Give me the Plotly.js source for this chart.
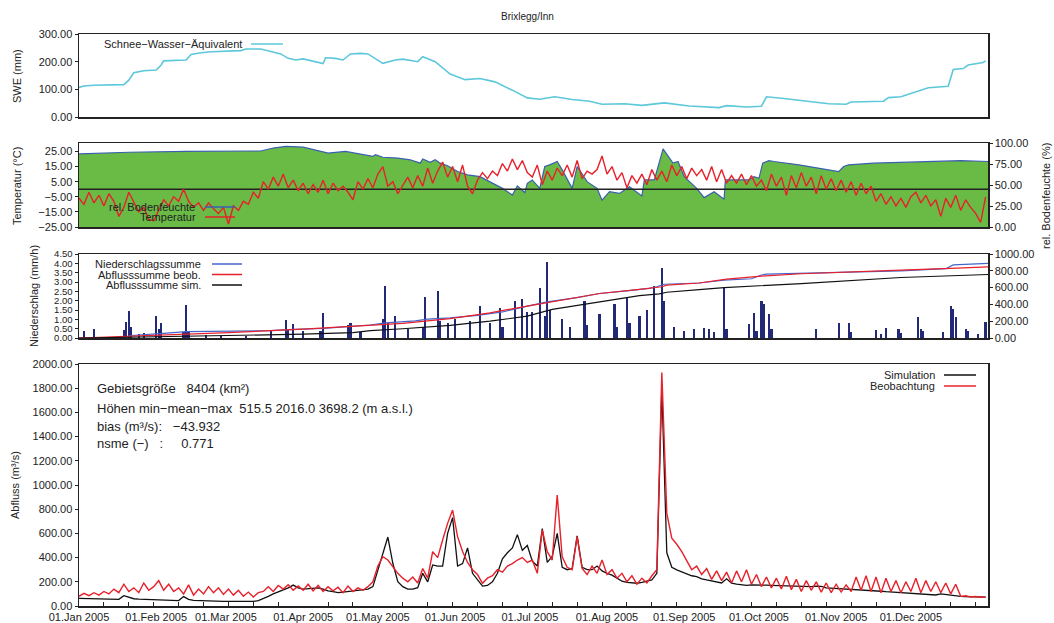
<!DOCTYPE html>
<html><head><meta charset="utf-8">
<script src="https://cdn.plot.ly/plotly-3.0.1.min.js"></script>
<style>html,body{margin:0;padding:0;background:#fff}#chart{width:1054px;height:623px}</style>
</head><body><div id="chart"></div>
<script>
// ---------- DATA (day of year 2005) ----------
const sweDay=[0,2,6,18,20,22,26,31,33,34,43,45,49,53,65,67,73,77,81,84,87,90,95,98,99,103,106,109,113,116,122,127,130,136,138,143,149,155,161,167,174,180,185,191,198,205,210,219,226,235,245,257,260,268,274,276,283,292,301,308,310,323,325,330,337,341,349,351,355,357,363,364];
const sweVal=[107,112,115,117,133,160,167,170,188,203,206,226,232,236,240,246,246,236,228,212,206,210,200,193,214,212,206,228,230,228,194,206,209,200,218,200,155,135,139,127,97,69,64,73,63,57,46,48,42,51,40,34,41,36,39,73,67,58,48,46,54,57,70,73,94,106,111,172,175,188,197,203];

// temperature, one value every 2 days from 1 Jan
const tempVal=[-6,-10,-2,-9,-4,-11,-3,-8,-18,-12,
-2,-9,-15,-12,-20,-21,-14,-7,-11,-5,
-8,0,-8,-12,-9,-14,-9,-13,-16,-12,
-23,-11,-14,-8,-10,-2,-6,5,0,8,
2,10,1,6,-1,4,-3,3,-2,6,
-3,4,-1,2,-2,-7,5,0,7,1,
10,15,2,5,-3,3,8,1,9,2,
14,4,12,18,8,15,5,16,2,-3,
6,11,7,12,9,17,12,20,13,19,
11,8,16,3,12,6,14,9,16,8,
19,7,12,10,13,22,10,15,6,11,
1,9,4,10,3,13,6,12,5,16,
9,15,7,14,9,13,6,15,5,13,
4,9,4,10,3,9,2,6,-1,10,
2,8,-4,9,1,11,2,8,-3,9,
0,7,-1,6,-2,5,-4,4,-3,2,
-8,-3,-10,-5,-11,-6,-12,-5,-2,-9,
-4,-11,-7,-18,-6,-12,-4,-14,-7,-12,
-16,-22,-5];

const soilDay=[0,20,43,73,78,83,90,98,100,107,113,118,119,122,128,133,137,138,141,143,145,148,152,156,161,165,170,174,176,179,180,182,185,187,189,192,194,198,200,204,208,210,213,217,221,226,227,231,234.5,238.5,240.5,243,248,251,255,259,259.5,269,271,273,274.5,277,279,289,297,305,307,309,319,333,354,365];
const soilVal=[87,89,90,90.5,94,96,95,90,88,90,87,84,86,83,82,80,76,81,77,80,76,73,66,62,60,54,46,38,49,41,52,56,46,72,74,78,68,46,72,54,46,32,42,40,48,37,56,56,93,76,78,60,46,35,42,33,56,56,60,58,76,79,78,74,70,66,72,74,76,77,79,78];

const rainDay=[2,6,18,19,20,21,24,26,31,32,33,42,43,44,51,57,67,77,83,84,86,90,97,98,108,109,113,122,123,124,127,132,138,139,144,145,148,151,157,161,165,169,170,175,178,180,182,185,187,188,189,194,197,203,204,209,215,216,220,221,225,228,231,234,235,239,243,247,251,253,255,259,260,269,271,272,274,275,277,278,296,305,309,310,320,322,324,329,330,337,338,339,347,350,351,352,356,357,361,364];
const rainVal=[0.36,0.48,0.43,0.84,1.44,0.6,0.2,0.25,1.2,0.5,0.8,0.3,1.78,0.4,0.15,0.1,0.12,0.43,0.97,0.5,0.77,0.4,0.4,1.33,0.72,0.8,0.3,1.0,2.8,0.8,1.2,0.5,0.6,2.2,2.5,0.9,0.8,1.0,0.9,1.7,0.8,1.6,0.6,2.0,2.1,1.4,1.4,2.7,1.2,4.05,1.5,1.0,0.6,2.0,0.7,1.3,1.8,0.6,2.2,0.8,1.2,1.5,2.8,3.75,2.0,0.6,0.4,0.5,0.54,0.5,0.3,2.73,0.5,0.73,1.33,0.4,1.98,1.84,1.3,0.5,0.5,0.8,0.79,0.3,0.45,0.2,0.54,0.5,0.25,1.11,0.5,0.4,0.3,1.69,1.55,1.1,0.5,0.4,0.2,0.86];

const cumPDay=[0,18,21,31,34,43,60,77,84,98,108,117,123,135,140,149,160,170,180,188,200,209,220,229,232,235,249,259,270,274,276,290,310,330,348,351,365];
const cumPVal=[0,5,30,45,55,75,80,88,100,115,135,155,180,205,225,240,270,310,380,430,480,530,560,590,610,640,655,688,705,750,760,770,780,800,825,870,888];
const cumObsDay=[0,30,60,90,117,130,149,165,180,195,209,225,234,236,249,260,274,290,310,330,350,365];
const cumObsVal=[0,30,65,105,148,175,230,300,380,460,530,580,610,630,655,700,736,765,790,808,828,848];
const cumSimDay=[0,60,90,110,117,130,149,165,180,190,210,225,233,236,249,259,290,330,365];
const cumSimVal=[0,30,45,65,88,110,150,200,260,340,430,505,525,545,575,600,648,720,756];

// discharge, one value every 2 days from 1 Jan
const qSim=[63,62,61,60,59,58,57,56,55,85,
70,60,56,54,52,50,49,48,47,46,
45,78,55,46,44,43,42,41,40,39,
38,37,37,36,36,38,45,60,80,100,
118,130,150,173,150,140,145,150,150,140,
125,118,110,115,120,125,128,132,140,160,
298,450,570,353,201,160,140,140,151,270,
200,339,330,330,600,730,330,350,480,270,
220,165,170,200,270,390,440,480,590,460,
500,370,330,640,360,410,600,320,300,310,
580,320,300,300,330,290,270,255,230,205,
195,190,188,195,205,215,270,1800,440,320,
298,280,265,250,242,225,215,205,195,190,
225,188,180,178,170,175,172,173,172,170,
168,166,164,162,161,160,158,160,165,163,
150,148,146,142,138,135,132,130,128,127,
125,122,118,115,113,111,108,105,102,98,
95,93,91,100,95,85,80,79,78,77,
76,75,74];
const qObs=[80,105,85,110,90,120,100,140,110,180,
120,150,110,190,130,160,210,130,180,120,
150,100,175,90,140,100,160,110,150,95,
140,90,130,80,115,75,110,120,160,120,
170,140,175,130,165,130,180,125,170,120,
160,125,155,110,165,120,150,130,160,200,
330,407,380,325,270,230,200,240,190,310,
230,449,400,545,683,793,573,450,360,300,
260,188,230,250,300,280,330,350,380,400,
360,380,270,628,449,380,917,407,320,300,
573,310,260,330,270,380,260,300,230,270,
200,250,180,230,190,250,300,1930,766,560,
510,450,380,300,330,260,310,220,290,210,
280,190,290,200,300,180,260,160,240,150,
230,140,245,135,220,120,210,130,200,115,
190,110,180,115,175,120,240,130,250,120,
240,110,230,120,210,110,200,120,230,110,
210,120,200,110,190,100,180,80,85,75,
78,72,74];

const monthTickFormat='%d.%b %Y';
const title='Brixlegg/Inn';
const infoLines=['Gebietsgröße\u00a0\u00a0\u00a08404 (km²)','Höhen min−mean−max\u00a0\u00a0515.5 2016.0 3698.2 (m a.s.l.)','bias (m³/s):\u00a0\u00a0\u00a0−43.932','nsme (−)\u00a0\u00a0\u00a0:\u00a0\u00a0\u00a0\u00a0\u00a00.771'];

// ---------- helpers ----------
const T0=Date.UTC(2005,0,1);
const toDate=d=>new Date(T0+d*86400000).toISOString().slice(0,19).replace('T',' ');
const every2=arr=>arr.map((_,i)=>toDate(i*2));
const xRange=['2005-01-01 00:00','2005-12-31 23:00'];

const C={swe:'#5cc8da',green:'#69bb45',soilLine:'#3a5fae',red:'#e8202a',navy:'#222a78',blue:'#4466cc',black:'#111',frame:'#222'};
const FONT='Liberation Sans, Arial, Helvetica, sans-serif';

const traces=[
 {x:sweDay.map(toDate),y:sweVal,xaxis:'x',yaxis:'y',type:'scatter',mode:'lines',line:{color:C.swe,width:1.6},name:'SWE'},
 {x:soilDay.map(toDate),y:soilVal,xaxis:'x2',yaxis:'y2',type:'scatter',mode:'lines',fill:'tozeroy',fillcolor:C.green,line:{color:C.soilLine,width:1.2},name:'Bodenfeuchte'},
 {x:[xRange[0],xRange[1]],y:[0,0],xaxis:'x2',yaxis:'y3',type:'scatter',mode:'lines',line:{color:'#222',width:1.3},name:'zero'},
 {x:every2(tempVal),y:tempVal,xaxis:'x2',yaxis:'y3',type:'scatter',mode:'lines',line:{color:C.red,width:1.4},name:'Temperatur'},
 {x:rainDay.map(toDate),y:rainVal,xaxis:'x3',yaxis:'y4',type:'bar',width:86400000*0.9,marker:{color:C.navy,line:{width:0}},name:'Niederschlag'},
 {x:cumPDay.map(toDate),y:cumPVal,xaxis:'x3',yaxis:'y5',type:'scatter',mode:'lines',line:{color:C.blue,width:1.2},name:'Niederschlagssumme'},
 {x:cumObsDay.map(toDate),y:cumObsVal,xaxis:'x3',yaxis:'y5',type:'scatter',mode:'lines',line:{color:C.red,width:1.2},name:'Abflusssumme beob.'},
 {x:cumSimDay.map(toDate),y:cumSimVal,xaxis:'x3',yaxis:'y5',type:'scatter',mode:'lines',line:{color:C.black,width:1.2},name:'Abflusssumme sim.'},
 {x:every2(qSim),y:qSim,xaxis:'x4',yaxis:'y6',type:'scatter',mode:'lines',line:{color:C.black,width:1.3},name:'Simulation'},
 {x:every2(qObs),y:qObs,xaxis:'x4',yaxis:'y6',type:'scatter',mode:'lines',line:{color:C.red,width:1.4},name:'Beobachtung'}
];

const XD=[79/1054,988/1054];
const yd=(top,bot)=>[1-bot/623,1-top/623];
const tickF={family:FONT,size:11,color:'#222'};
const xBase={type:'date',range:xRange,domain:XD,showline:true,mirror:true,linecolor:C.frame,linewidth:1.5,showgrid:false,zeroline:false,showticklabels:false,ticks:''};
const yBase={showline:true,mirror:true,linecolor:C.frame,linewidth:1.5,showgrid:false,zeroline:false,tickformat:'.2f',tickfont:tickF,ticks:'outside',ticklen:3,tickcolor:C.frame};

const layout={
 width:1054,height:623,margin:{l:0,r:0,t:0,b:0},paper_bgcolor:'#fff',plot_bgcolor:'#fff',
 showlegend:false,font:{family:FONT,size:11,color:'#222'},bargap:0,barmode:'overlay',
 xaxis:Object.assign({},xBase,{anchor:'y'}),
 xaxis2:Object.assign({},xBase,{anchor:'y2'}),
 xaxis3:Object.assign({},xBase,{anchor:'y4'}),
 xaxis4:Object.assign({},xBase,{anchor:'y6',showticklabels:true,tickformat:monthTickFormat,dtick:'M1',tick0:'2005-01-01',tickfont:tickF,ticks:'',
   minor:{ticks:'inside',ticklen:4,tickcolor:C.frame,dtick:10*86400000,tick0:'2005-01-01'}}),
 yaxis:Object.assign({},yBase,{domain:yd(34,117),range:[0,300],dtick:100,tick0:0,anchor:'x'}),
 yaxis2:Object.assign({},yBase,{domain:yd(143,227),range:[0,100],dtick:25,tick0:0,side:'right',anchor:'x2'}),
 yaxis3:Object.assign({},yBase,{range:[-25,30.6],dtick:10,tick0:-25,side:'left',overlaying:'y2',anchor:'x2',mirror:false}),
 yaxis4:Object.assign({},yBase,{domain:yd(254,338),range:[0,4.5],dtick:0.5,tick0:0,side:'left',anchor:'x3',mirror:false,tickfont:{family:FONT,size:9.5,color:'#222'}}),
 yaxis5:Object.assign({},yBase,{range:[0,1000],dtick:200,tick0:0,side:'right',overlaying:'y4',anchor:'x3',mirror:false}),
 yaxis6:Object.assign({},yBase,{domain:yd(364,606),range:[0,2000],dtick:200,tick0:0,anchor:'x4'}),
 annotations:[],shapes:[]
};

const P=(px)=>px/1054, Q=(py)=>1-py/623;
const ann=(text,x,y,opts)=>layout.annotations.push(Object.assign({text:text,x:P(x),y:Q(y),xref:'paper',yref:'paper',showarrow:false,font:{family:FONT,size:11,color:'#222'},xanchor:'right',yanchor:'middle'},opts||{}));
const sample=(x0,x1,y,color)=>layout.shapes.push({type:'line',xref:'paper',yref:'paper',x0:P(x0),x1:P(x1),y0:Q(y),y1:Q(y),line:{color:color,width:1.5}});

ann(title,527,16,{xanchor:'center',font:{family:FONT,size:10,color:'#222'}});
ann('SWE (mm)',17,76,{xanchor:'center',textangle:-90});
ann('Temperatur (°C)',17,186,{xanchor:'center',textangle:-90});
ann('rel. Bodenfeuchte (%)',1046,196,{xanchor:'center',textangle:-90});
ann('Niederschlag (mm/h)',34,296,{xanchor:'center',textangle:-90});
ann('Abfluss (m³/s)',15,485,{xanchor:'center',textangle:-90});

ann('Schnee−Wasser−Äquivalent',244,44); sample(251,283,44,C.swe);
ann('rel. Bodenfeuchte',197,207); sample(205,235,207,C.soilLine);
ann('Temperatur',198,217); sample(205,235,217,C.red);
ann('Niederschlagssumme',203,264); sample(212,242,264,C.blue);
ann('Abflusssumme beob.',203,274.5); sample(212,242,274.5,C.red);
ann('Abflusssumme sim.',203,285); sample(212,242,285,C.black);
ann('Simulation',937,375); sample(944,976,375,C.black);
ann('Beobachtung',937,386); sample(944,976,386,C.red);

const infoY=[388,408,426,443];
infoLines.forEach((t,i)=>ann(t,95,infoY[i],{xanchor:'left',font:{family:FONT,size:13,color:'#222'}}));

Plotly.newPlot('chart',traces,layout,{staticPlot:true,displayModeBar:false});
</script></body></html>
